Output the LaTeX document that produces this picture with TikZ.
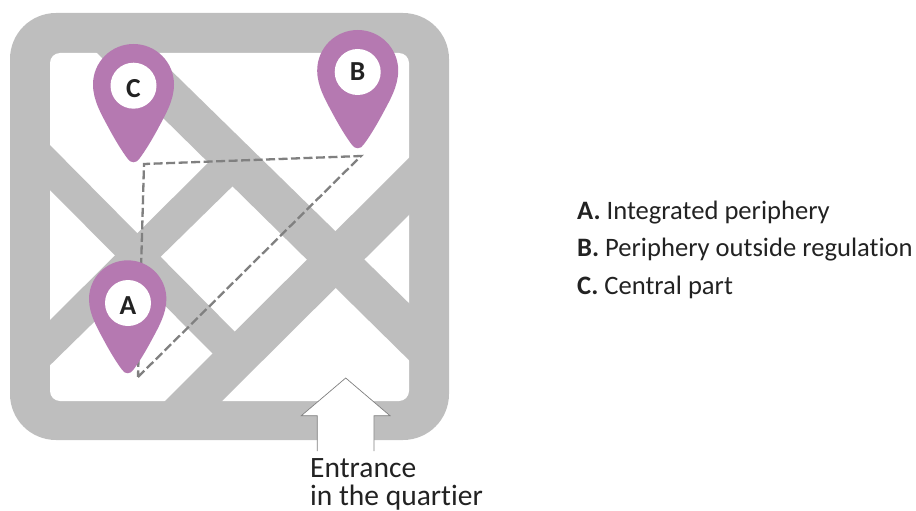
\documentclass[tikz,border=0pt]{standalone}
\usepackage{fontspec}
\setmainfont{Carlito}[Ligatures=NoCommon]
\definecolor{roadgray}{HTML}{BEBEBE}
\definecolor{pinpurple}{HTML}{B579B1}
\definecolor{tripgray}{HTML}{808080}
\definecolor{textblack}{HTML}{222222}
\begin{document}
\begin{tikzpicture}[x=1pt,y=-1pt]

\tikzset{
    road/.style={fill=roadgray,draw=none},
    trip/.style={draw=tripgray,line width=2.3pt,dash pattern=on 9pt off 3.5pt},
    mappin/.pic={\fill[pinpurple] (-40.5,0) .. controls (-40.5,-22.4) and (-22.4,-40.5) .. (0,-40.5)
        .. controls (22.4,-40.5) and (40.5,-22.4) .. (40.5,0)
        .. controls (40.5,16) and (32,30) .. (24,45)
        .. controls (18,56) and (12,66) .. (6,74)
        .. controls (3,79) and (-3,79) .. (-6,74)
        .. controls (-12,66) and (-18,56) .. (-24,45)
        .. controls (-32,30) and (-40.5,16) .. (-40.5,0) -- cycle;},
    pinlabel/.style={circle,fill=white,minimum size=46pt,inner sep=0pt,text=textblack,font=\fontsize{27.5}{27}\selectfont\bfseries},
    legend/.style={anchor=base west,inner sep=0pt,text=textblack,font=\fontsize{26.6}{27}\selectfont},
    entrance/.style={anchor=base west,inner sep=0pt,text=textblack,font=\fontsize{29.5}{30}\selectfont}}

\useasboundingbox (0,0) rectangle (916,511);

% quarter and streets
\fill[road,rounded corners=46pt] (10,13) rectangle (449,440);
\fill[white,rounded corners=10pt] (50,53) rectangle (409,401);

\fill[road] (87,43) -- (143,43) -- (419,313) -- (419,370) -- cycle;
\fill[road] (40,135) -- (244,341) -- (222,363) -- (40,180) -- cycle;
\fill[road] (40,330) -- (218,153) -- (242,177) -- (40,375) -- cycle;
\fill[road] (155,411) -- (419,148) -- (419,205) -- (212,411) -- cycle;

% walk between the points
\coordinate (Ctrip) at (144,164);
\coordinate (Btrip) at (361,156);
\coordinate (Atrip) at (138,377);
\draw[trip] (Atrip) -- (Btrip) -- (Ctrip) -- (Atrip);

% pins
\pic at (133.5,84.5) {mappin};
\pic at (357.7,70.5) {mappin};
\pic[scale=0.955] at (127.7,299) {mappin};

\node[pinlabel] (C) at (133.5,85.7) {\raisebox{-3pt}[\height][0pt]{C}};
\node[pinlabel] (B) at (357.7,72) {B};
\node[pinlabel] (A) at (128,303) {\raisebox{-3pt}[\height][0pt]{A}};

% entrance arrow
\coordinate (E1) at (317.3,451);
\coordinate (E2) at (317.3,415.7);
\coordinate (E3) at (301.3,415.7);
\coordinate (E4) at (345.7,378);
\coordinate (E5) at (390,415.7);
\coordinate (E6) at (374,415.7);
\coordinate (E7) at (374,451);
\fill[white] (E1) -- (E2) -- (E3) -- (E4) -- (E5) -- (E6) -- (E7) -- cycle;
\draw[tripgray,line width=0.7pt] (E1) -- (E2) -- (E3) -- (E4) -- (E5) -- (E6) -- (E7);

\node[entrance] (entrance) at (310,477) {Entrance};
\node[entrance] (quartier) at (310,505.3) {in the quartier};

% legend
\node[legend] (legA) at (577,219.5) {\textbf{A.} Integrated periphery};
\node[legend] (legB) at (577,256.5) {\textbf{B.} Periphery outside regulation};
\node[legend] (legC) at (577,294.5) {\textbf{C.} Central part};

\end{tikzpicture}
\end{document}
